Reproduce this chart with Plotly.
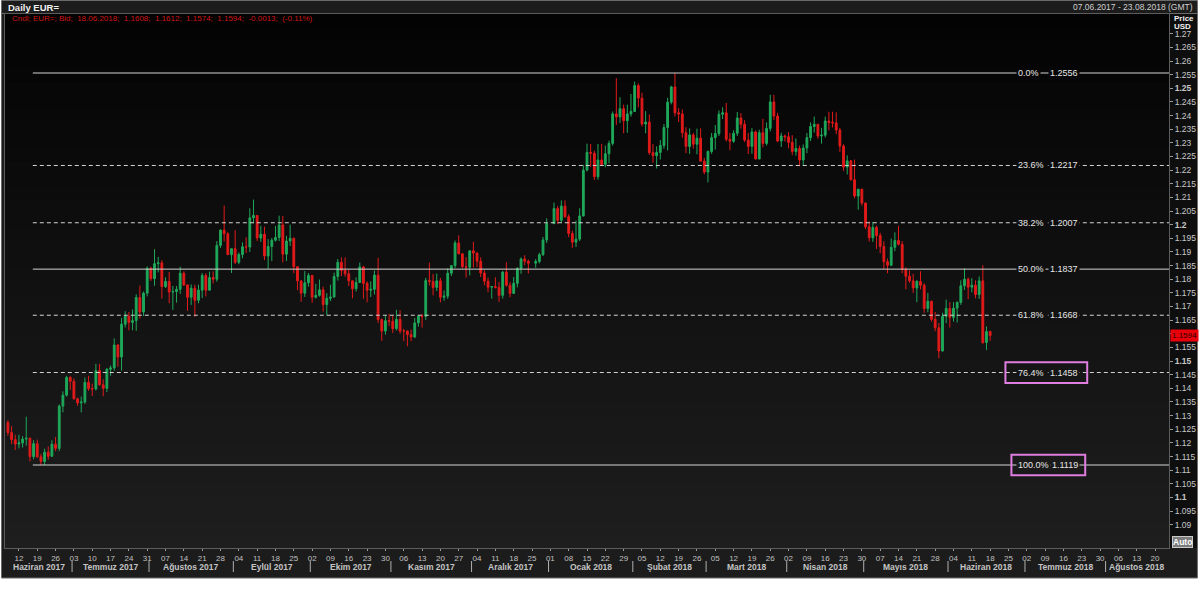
import pandas as pd
import plotly.graph_objects as go

# ---------------- data ----------------
holidays = ["2017-12-25", "2018-01-01"]

open_ = [
    # Jun 2017
    1.1275,1.1238,1.1212,1.1196,1.1200,1.1214,1.1217,1.1150,1.1197,1.1149,1.1132,1.1166,1.1151,1.1195,1.1180,1.1335,1.1375,1.1440,
    # Jul
    1.1426,1.1362,1.1347,1.1350,1.1422,1.1399,1.1398,1.1465,1.1413,1.1400,1.1470,1.1475,1.1559,1.1515,1.1635,1.1665,1.1642,1.1648,1.1733,1.1680,1.1749,
    # Aug
    1.1840,1.1802,1.1857,1.1860,1.1773,1.1792,1.1753,1.1755,1.1763,1.1822,1.1779,1.1734,1.1767,1.1723,1.1760,1.1814,1.1760,1.1806,1.1800,1.1924,1.1980,1.1967,1.1890,
    # Sep
    1.1912,1.1862,1.1891,1.1919,1.1918,1.2025,1.2034,1.1951,1.1965,1.1885,1.1920,1.1943,1.1953,1.1999,1.1892,1.1940,1.1950,1.1846,1.1794,1.1749,1.1787,
    # Oct
    1.1814,1.1734,1.1741,1.1761,1.1707,1.1730,1.1735,1.1810,1.1862,1.1832,1.1820,1.1794,1.1765,1.1788,1.1845,1.1785,1.1760,1.1763,1.1815,1.1652,1.1610,1.1648,
    # Nov
    1.1646,1.1619,1.1653,1.1610,1.1610,1.1597,1.1588,1.1640,1.1665,1.1664,1.1795,1.1792,1.1770,1.1794,1.1734,1.1738,1.1822,1.1850,1.1933,1.1893,1.1846,1.1844,
    # Dec
    1.1904,1.1896,1.1866,1.1823,1.1793,1.1771,1.1773,1.1770,1.1741,1.1826,1.1778,1.1748,1.1785,1.1840,1.1874,1.1866,1.1859,1.1865,1.1890,1.1944,
    # Jan 2018
    1.2004,1.2059,1.2016,1.2068,1.2029,1.1968,1.1936,1.1947,1.2032,1.2200,1.2265,1.2262,1.2176,1.2237,1.2221,1.2260,1.2298,1.2406,1.2395,1.2425,1.2381,1.2406,
    # Feb
    1.2415,1.2510,1.2464,1.2369,1.2376,1.2264,1.2253,1.2265,1.2290,1.2356,1.2449,1.2505,1.2410,1.2406,1.2337,1.2287,1.2329,1.2295,1.2317,1.2233,
    # Mar
    1.2193,1.2268,1.2319,1.2334,1.2405,1.2410,1.2313,1.2306,1.2335,1.2391,1.2368,1.2310,1.2287,1.2340,1.2241,1.2337,1.2298,1.2353,1.2450,1.2398,1.2307,1.2325,
    # Apr
    1.2322,1.2302,1.2268,1.2279,1.2237,1.2281,1.2319,1.2360,1.2368,1.2325,1.2328,1.2380,1.2375,1.2373,1.2347,1.2288,1.2211,1.2234,1.2165,1.2105,1.2130,
    # May
    1.2079,1.1992,1.1952,1.1990,1.1960,1.1920,1.1864,1.1851,1.1917,1.1942,1.1928,1.1836,1.1811,1.1794,1.1768,1.1792,1.1778,1.1693,1.1719,1.1653,1.1622,1.1537,1.1664,
    # Jun 2018
    1.1693,1.1660,1.1694,1.1715,1.1776,1.1800,1.1771,1.1778,1.1744,1.1794,1.1568,1.1608,
]

high = [
    1.1283,1.1262,1.1230,1.1230,1.1225,1.1296,1.1220,1.1210,1.1212,1.1160,1.1179,1.1187,1.1210,1.1222,1.1341,1.1389,1.1446,1.1445,
    1.1436,1.1366,1.1370,1.1440,1.1446,1.1417,1.1490,1.1490,1.1433,1.1474,1.1484,1.1583,1.1562,1.1658,1.1683,1.1680,1.1689,1.1745,1.1777,1.1755,1.1847,
    1.1846,1.1910,1.1882,1.1870,1.1807,1.1827,1.1775,1.1775,1.1846,1.1829,1.1781,1.1781,1.1780,1.1780,1.1823,1.1822,1.1828,1.1829,1.1940,1.1983,1.2070,1.1972,1.1912,
    1.1980,1.1898,1.1935,1.1954,1.2060,1.2092,1.2035,1.1996,1.1993,1.1947,1.1951,1.1995,1.2033,1.2032,1.1959,1.2000,1.1953,1.1847,1.1795,1.1830,1.1823,
    1.1816,1.1783,1.1799,1.1773,1.1749,1.1780,1.1824,1.1874,1.1880,1.1880,1.1834,1.1796,1.1807,1.1861,1.1849,1.1792,1.1792,1.1832,1.1879,1.1656,1.1668,1.1673,
    1.1666,1.1688,1.1686,1.1618,1.1612,1.1616,1.1658,1.1667,1.1673,1.1805,1.1861,1.1819,1.1821,1.1805,1.1759,1.1840,1.1852,1.1942,1.1961,1.1895,1.1881,1.1906,
    1.1937,1.1898,1.1880,1.1833,1.1806,1.1775,1.1807,1.1790,1.1830,1.1862,1.1789,1.1808,1.1844,1.1880,1.1888,1.1872,1.1874,1.1897,1.1955,1.2023,
    1.2081,1.2068,1.2089,1.2089,1.2038,1.1978,1.2015,1.2060,1.2219,1.2297,1.2296,1.2271,1.2296,1.2296,1.2290,1.2308,1.2415,1.2537,1.2467,1.2440,1.2440,1.2479,
    1.2524,1.2518,1.2484,1.2416,1.2404,1.2295,1.2287,1.2310,1.2369,1.2465,1.2509,1.2556,1.2427,1.2422,1.2357,1.2353,1.2336,1.2352,1.2353,1.2245,
    1.2272,1.2336,1.2365,1.2419,1.2430,1.2446,1.2336,1.2346,1.2413,1.2409,1.2383,1.2336,1.2354,1.2345,1.2348,1.2388,1.2375,1.2476,1.2476,1.2410,1.2337,1.2330,
    1.2339,1.2328,1.2316,1.2290,1.2294,1.2336,1.2375,1.2396,1.2369,1.2355,1.2396,1.2414,1.2414,1.2412,1.2355,1.2295,1.2254,1.2237,1.2239,1.2130,1.2132,
    1.2082,1.2012,1.2010,1.1996,1.1970,1.1939,1.1876,1.1949,1.1972,1.1996,1.1940,1.1844,1.1832,1.1820,1.1797,1.1829,1.1785,1.1750,1.1722,1.1680,1.1640,1.1677,1.1725,
    1.1716,1.1716,1.1719,1.1796,1.1840,1.1806,1.1804,1.1796,1.1810,1.1852,1.1627,1.1612,
]

low = [
    1.1226,1.1196,1.1174,1.1180,1.1183,1.1190,1.1132,1.1140,1.1145,1.1119,1.1119,1.1138,1.1150,1.1170,1.1170,1.1312,1.1370,1.1394,
    1.1358,1.1336,1.1312,1.1343,1.1391,1.1372,1.1392,1.1410,1.1371,1.1386,1.1446,1.1465,1.1479,1.1465,1.1623,1.1613,1.1613,1.1611,1.1656,1.1665,1.1737,
    1.1794,1.1776,1.1825,1.1729,1.1768,1.1712,1.1688,1.1714,1.1746,1.1775,1.1684,1.1706,1.1662,1.1712,1.1731,1.1737,1.1759,1.1785,1.1791,1.1915,1.1939,1.1889,1.1823,
    1.1856,1.1855,1.1877,1.1896,1.1900,1.2005,1.1940,1.1937,1.1870,1.1838,1.1867,1.1938,1.1940,1.1862,1.1867,1.1922,1.1822,1.1760,1.1717,1.1735,1.1773,
    1.1714,1.1729,1.1736,1.1681,1.1668,1.1720,1.1732,1.1795,1.1812,1.1809,1.1775,1.1730,1.1755,1.1787,1.1728,1.1715,1.1735,1.1744,1.1640,1.1574,1.1597,1.1628,
    1.1603,1.1612,1.1600,1.1573,1.1554,1.1573,1.1585,1.1626,1.1623,1.1651,1.1777,1.1741,1.1757,1.1715,1.1721,1.1728,1.1812,1.1841,1.1892,1.1841,1.1806,1.1814,
    1.1843,1.1845,1.1808,1.1778,1.1752,1.1729,1.1766,1.1717,1.1729,1.1773,1.1734,1.1747,1.1770,1.1820,1.1852,1.1821,1.1842,1.1858,1.1885,1.1933,
    1.2002,1.2002,1.2006,1.2025,1.1954,1.1915,1.1918,1.1940,1.2030,1.2195,1.2212,1.2164,1.2165,1.2219,1.2210,1.2225,1.2290,1.2366,1.2373,1.2335,1.2337,1.2396,
    1.2414,1.2430,1.2360,1.2335,1.2256,1.2227,1.2206,1.2239,1.2278,1.2272,1.2441,1.2397,1.2376,1.2319,1.2262,1.2260,1.2279,1.2258,1.2231,1.2185,
    1.2155,1.2260,1.2275,1.2325,1.2387,1.2305,1.2273,1.2300,1.2325,1.2352,1.2303,1.2259,1.2260,1.2239,1.2240,1.2284,1.2290,1.2342,1.2383,1.2302,1.2285,1.2305,
    1.2280,1.2255,1.2253,1.2214,1.2216,1.2262,1.2307,1.2338,1.2315,1.2297,1.2320,1.2346,1.2356,1.2332,1.2267,1.2197,1.2184,1.2161,1.2097,1.2055,1.2070,
    1.1984,1.1938,1.1937,1.1911,1.1895,1.1838,1.1822,1.1849,1.1903,1.1924,1.1822,1.1763,1.1787,1.1750,1.1716,1.1763,1.1677,1.1679,1.1645,1.1609,1.1510,1.1535,1.1639,
    1.1623,1.1645,1.1641,1.1706,1.1761,1.1727,1.1752,1.1730,1.1728,1.1563,1.1541,1.1574,
]

close = [
    1.1238,1.1212,1.1196,1.1200,1.1214,1.1217,1.1150,1.1197,1.1149,1.1132,1.1166,1.1151,1.1195,1.1180,1.1335,1.1375,1.1440,1.1426,
    1.1362,1.1347,1.1350,1.1422,1.1399,1.1398,1.1465,1.1413,1.1400,1.1470,1.1475,1.1559,1.1515,1.1635,1.1665,1.1642,1.1648,1.1733,1.1680,1.1749,1.1840,
    1.1802,1.1857,1.1860,1.1773,1.1792,1.1753,1.1755,1.1763,1.1822,1.1779,1.1734,1.1767,1.1723,1.1760,1.1814,1.1760,1.1806,1.1800,1.1924,1.1980,1.1967,1.1890,1.1912,
    1.1862,1.1891,1.1919,1.1918,1.2025,1.2034,1.1951,1.1965,1.1885,1.1920,1.1943,1.1953,1.1999,1.1892,1.1940,1.1950,1.1846,1.1794,1.1749,1.1787,1.1814,
    1.1734,1.1741,1.1761,1.1707,1.1730,1.1735,1.1810,1.1862,1.1832,1.1820,1.1794,1.1765,1.1788,1.1845,1.1785,1.1760,1.1763,1.1815,1.1652,1.1610,1.1648,1.1646,
    1.1619,1.1653,1.1610,1.1610,1.1597,1.1588,1.1640,1.1665,1.1664,1.1795,1.1792,1.1770,1.1794,1.1734,1.1738,1.1822,1.1850,1.1933,1.1893,1.1846,1.1844,1.1904,
    1.1896,1.1866,1.1823,1.1793,1.1771,1.1773,1.1770,1.1741,1.1826,1.1778,1.1748,1.1785,1.1840,1.1874,1.1866,1.1859,1.1865,1.1890,1.1944,1.2004,
    1.2059,1.2016,1.2068,1.2029,1.1968,1.1936,1.1947,1.2032,1.2200,1.2265,1.2262,1.2176,1.2237,1.2221,1.2260,1.2298,1.2406,1.2395,1.2425,1.2381,1.2406,1.2415,
    1.2510,1.2464,1.2369,1.2376,1.2264,1.2253,1.2265,1.2290,1.2356,1.2449,1.2505,1.2410,1.2406,1.2337,1.2287,1.2329,1.2295,1.2317,1.2233,1.2193,
    1.2268,1.2319,1.2334,1.2405,1.2410,1.2313,1.2306,1.2335,1.2391,1.2368,1.2310,1.2287,1.2340,1.2241,1.2337,1.2298,1.2353,1.2450,1.2398,1.2307,1.2325,1.2322,
    1.2302,1.2268,1.2279,1.2237,1.2281,1.2319,1.2360,1.2368,1.2325,1.2328,1.2380,1.2375,1.2373,1.2347,1.2288,1.2211,1.2234,1.2165,1.2105,1.2130,1.2079,
    1.1992,1.1952,1.1990,1.1960,1.1920,1.1864,1.1851,1.1917,1.1942,1.1928,1.1836,1.1811,1.1794,1.1768,1.1792,1.1778,1.1693,1.1719,1.1653,1.1622,1.1537,1.1664,1.1693,
    1.1660,1.1694,1.1715,1.1776,1.1800,1.1771,1.1778,1.1744,1.1794,1.1568,1.1608,1.1594,
]

fib_pct = ["0.0%", "23.6%", "38.2%", "50.0%", "61.8%", "76.4%", "100.0%"]
fib_val = [1.2556, 1.2217, 1.2007, 1.1837, 1.1668, 1.1458, 1.1119]
fib_solid = [True, False, False, True, False, False, True]
fib_boxed = [False, False, False, False, False, True, True]

month_names = ["Haziran 2017", "Temmuz 2017", "Ağustos 2017", "Eylül 2017", "Ekim 2017",
               "Kasım 2017", "Aralık 2017", "Ocak 2018", "Şubat 2018", "Mart 2018",
               "Nisan 2018", "Mayıs 2018", "Haziran 2018", "Temmuz 2018", "Ağustos 2018"]

y_tick_vals = [round(1.09 + 0.005 * i, 3) for i in range(37)]
last_price = 1.1594
header_text = "Cndl; EUR=; Bid;  18.06.2018;  1.1608;  1.1612;  1.1574;  1.1594;  -0.0013;  (-0.11%)"
title_text = "Daily EUR="
range_text = "07.06.2017 - 23.08.2018 (GMT)"

# ---------------- geometry helpers ----------------
W, H = 1200, 597
ML, MR, MT, MB = 4, 29, 14, 49
PW, PH = W - ML - MR, H - MT - MB


def px(x):
    return (x - ML) / PW


def py(y):
    return (H - MB - y) / PH


Y0, Y1 = 1.081475, 1.277228
X0, X1 = "2017-06-06 04:48", "2018-08-23 19:12"
vis_start, vis_end = pd.Timestamp("2017-06-07"), pd.Timestamp("2018-08-23")

dates = [d for d in pd.bdate_range("2017-06-07", "2018-06-18") if d.strftime("%Y-%m-%d") not in holidays]
assert len(dates) == len(open_) == len(high) == len(low) == len(close)

TOP_RGB = (3, 3, 3)
BOT_RGB = (30, 30, 30)


def bg_at(frac):  # frac: 0 bottom .. 1 top
    c = [round(b + (t - b) * frac) for t, b in zip(TOP_RGB, BOT_RGB)]
    return "rgb(%d,%d,%d)" % tuple(c)


FONT = "Liberation Sans"

fig = go.Figure()
fig.add_trace(go.Candlestick(
    x=dates, open=open_, high=high, low=low, close=close,
    increasing=dict(line=dict(color="#1fa85a", width=1), fillcolor="#1fa85a"),
    decreasing=dict(line=dict(color="#e21a1a", width=1), fillcolor="#e21a1a"),
    whiskerwidth=0, showlegend=False, hoverinfo="x+y",
))

shapes = []
annotations = []

# panel backgrounds (paper, below everything)
shapes.append(dict(type="rect", xref="paper", yref="paper", x0=px(0.5), x1=px(1199.5), y0=py(578), y1=py(0.5),
                   fillcolor="#1c1c1c", line=dict(color="#6a6a6a", width=1), layer="below"))
shapes.append(dict(type="rect", xref="paper", yref="paper", x0=px(1171), x1=px(1199), y0=py(548), y1=py(14),
                   fillcolor="#0e0e0e", line=dict(width=0), layer="below"))
shapes.append(dict(type="line", xref="paper", yref="paper", x0=px(0), x1=px(1200), y0=py(13.5), y1=py(13.5),
                   line=dict(color="#6a6a6a", width=1), layer="below"))

# gradient inside plot
NB = 40
for i in range(NB):
    f0, f1 = i / NB, (i + 1) / NB
    shapes.append(dict(type="rect", xref="x domain", yref="y domain", x0=0, x1=1, y0=f0, y1=f1 + 0.002,
                       fillcolor=bg_at((f0 + f1) / 2), line=dict(width=0), layer="below"))

# fibonacci lines & labels
fib_start = "2017-06-15 19:00"
for pct, val, solid, boxed in zip(fib_pct, fib_val, fib_solid, fib_boxed):
    shapes.append(dict(type="line", xref="x", yref="y", x0=fib_start, x1=X1, y0=val, y1=val,
                       line=dict(color="#d4d4d4", width=1, dash="solid" if solid else "4px,3px"), layer="above"))
    bgc = bg_at((val - Y0) / (Y1 - Y0))
    annotations.append(dict(xref="paper", yref="y", x=px(1018), y=val, text=pct, showarrow=False,
                            xanchor="left", yanchor="middle", bgcolor=bgc, borderpad=1,
                            font=dict(family=FONT, size=9, color="#e6e6e6")))
    annotations.append(dict(xref="paper", yref="y", x=px(1082), y=val, text=("%.4f" % val), showarrow=False,
                            xanchor="right", yanchor="middle", bgcolor=bgc, borderpad=1,
                            font=dict(family=FONT, size=9, color="#e6e6e6")))
    if boxed:
        x0b, x1b = (1007, 1089) if pct == "76.4%" else (1013, 1087)
        shapes.append(dict(type="rect", xref="paper", yref="y", x0=px(x0b), x1=px(x1b),
                           y0=val - 0.0038, y1=val + 0.0038, line=dict(color="#e07ee0", width=2),
                           fillcolor="rgba(0,0,0,0)", layer="above"))

# x-axis ticks (Mondays) and month labels
mondays = pd.date_range("2017-06-12", "2018-08-20", freq="7D")
months = pd.period_range("2017-06", "2018-08", freq="M")
for k, (per, name) in enumerate(zip(months, month_names)):
    s = max(per.start_time.normalize(), vis_start)
    e = min(per.end_time.normalize(), vis_end)
    bd = pd.bdate_range(s, e)
    m = (len(bd) - 1) / 2
    c = bd[int(m)] + (pd.Timedelta(hours=12) if m % 1 else pd.Timedelta(0))
    annotations.append(dict(xref="x", yref="paper", x=c, y=py(566.5), text="<b>%s</b>" % name, showarrow=False,
                            xanchor="center", yanchor="middle", font=dict(family=FONT, size=8.5, color="#c4c4c4")))
    if k > 0:
        prev = pd.bdate_range(per.start_time - pd.Timedelta(days=7), per.start_time - pd.Timedelta(days=1))[-1]
        sep = prev + pd.Timedelta(hours=12)
        shapes.append(dict(type="line", xref="x", yref="paper", x0=sep, x1=sep, y0=py(561), y1=py(572),
                           line=dict(color="#b0b0b0", width=1)))

# header texts
annotations += [
    dict(xref="paper", yref="paper", x=px(5), y=py(7), text="<b>%s</b>" % title_text, showarrow=False,
         xanchor="left", yanchor="middle", font=dict(family=FONT, size=9.5, color="#f0f0f0")),
    dict(xref="paper", yref="paper", x=px(1197), y=py(7), text=range_text, showarrow=False,
         xanchor="right", yanchor="middle", font=dict(family=FONT, size=8.5, color="#cfcfcf")),
    dict(xref="paper", yref="paper", x=px(9), y=py(18.5), text=header_text, showarrow=False,
         xanchor="left", yanchor="middle", font=dict(family=FONT, size=8, color="#d01414")),
    dict(xref="paper", yref="paper", x=px(1174), y=py(18.5), text="<b>Price</b>", showarrow=False,
         xanchor="left", yanchor="middle", font=dict(family=FONT, size=8, color="#f0f0f0")),
    dict(xref="paper", yref="paper", x=px(1174), y=py(26.5), text="<b>USD</b>", showarrow=False,
         xanchor="left", yanchor="middle", font=dict(family=FONT, size=8, color="#f0f0f0")),
    dict(xref="paper", yref="y", x=px(1172), y=last_price, text="%.4f" % last_price, showarrow=False,
         xanchor="left", yanchor="middle", bgcolor="#e8000a", borderpad=1,
         font=dict(family=FONT, size=8, color="#2a0000")),
    dict(xref="paper", yref="paper", x=px(1185), y=py(542), text="<b>Auto</b>", showarrow=False,
         xanchor="center", yanchor="middle", bgcolor="#7c7c7c", bordercolor="#c8c8c8", borderwidth=1, borderpad=0,
         font=dict(family=FONT, size=8.5, color="#ffffff")),
]

y_tick_text = []
for v in y_tick_vals:
    s = ("%.3f" % v).rstrip("0")
    if abs(v - last_price) < 0.003:
        s = ""  # covered by the last-price marker
    elif round(v * 1000) % 50 == 0:
        s = "<b>%s</b>" % s
    y_tick_text.append(s)

fig.update_layout(
    width=W, height=H,
    margin=dict(l=ML, r=MR, t=MT, b=MB, pad=0),
    paper_bgcolor="#ffffff", plot_bgcolor="#0f0f0f",
    showlegend=False,
    shapes=shapes, annotations=annotations,
    font=dict(family=FONT, size=8, color="#c8c8c8"),
    xaxis=dict(
        type="date", range=[X0, X1], rangeslider=dict(visible=False),
        rangebreaks=[dict(bounds=["sat", "mon"])],
        tickvals=list(mondays), ticktext=["%02d" % d.day for d in mondays],
        ticks="outside", ticklen=2, tickcolor="#9a9a9a", tickfont=dict(family=FONT, size=8, color="#c0c0c0"),
        showgrid=False, zeroline=False, showline=True, linecolor="#5c5c5c", mirror=True,
    ),
    yaxis=dict(
        side="right", range=[Y0, Y1], tickvals=y_tick_vals, ticktext=y_tick_text,
        ticks="outside", ticklen=3, tickcolor="#9a9a9a", tickfont=dict(family=FONT, size=8.5, color="#c8c8c8"),
        showgrid=False, zeroline=False, showline=True, linecolor="#5c5c5c", mirror=True,
    ),
)

fig.write_html("out.html", config={"displayModeBar": False},
               post_script="document.body.style.margin='0';document.body.style.overflow='hidden';")
